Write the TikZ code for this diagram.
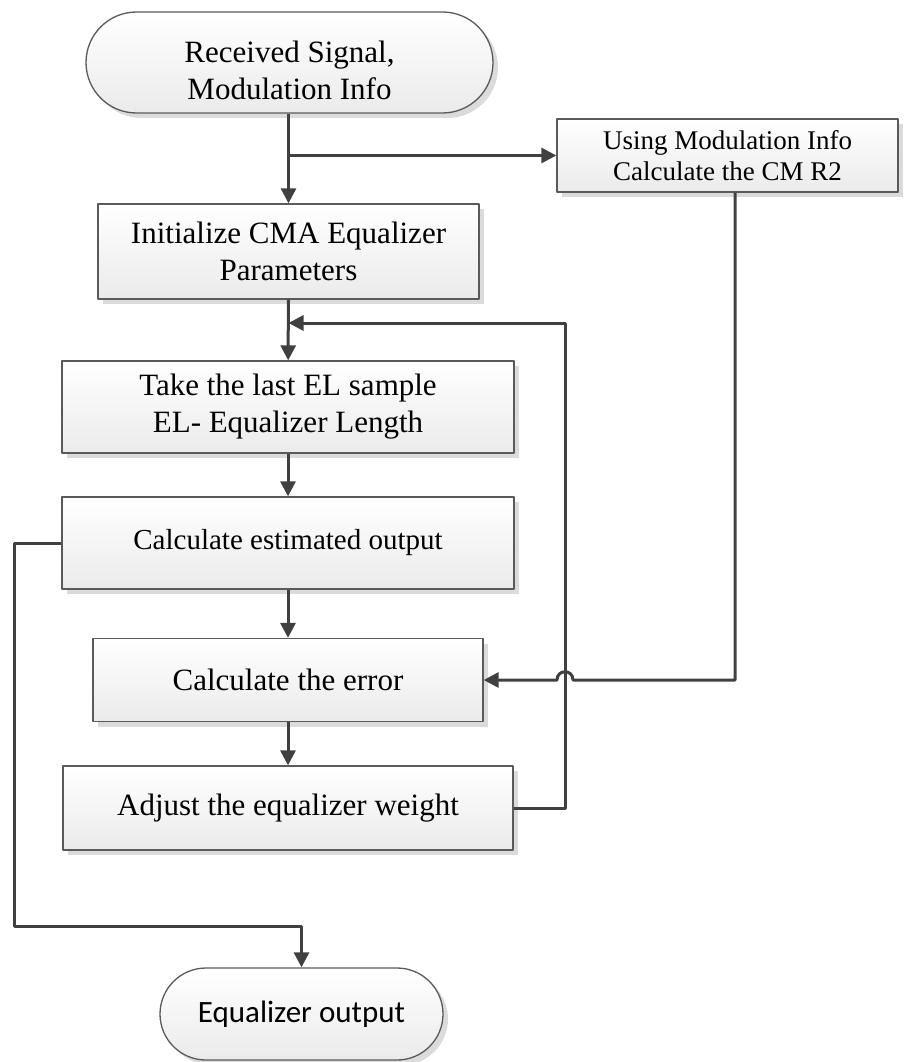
\documentclass[tikz,border=0pt]{standalone}
\usepackage{fontspec}
\setmainfont{Liberation Serif}
\newfontfamily\calibri{Carlito}
\usetikzlibrary{arrows.meta,shapes.misc,shadows}
\definecolor{flowgray}{HTML}{404040}
\definecolor{edgegray}{HTML}{5A5A5A}
\begin{document}
\begin{tikzpicture}[x=1pt, y=-1pt, line join=round, >={Triangle[length=15pt,width=15pt]},
	box/.style={draw=edgegray, line width=1.3pt, top color=white, bottom color=black!8, drop shadow={shadow xshift=5pt, shadow yshift=-5pt, fill=black!14, opacity=1}, align=center, inner sep=0pt, font=\fontsize{31}{37}\selectfont},
	term/.style={box, rounded rectangle},
	flow/.style={->, draw=flowgray, line width=3pt}]
	\useasboundingbox (0,0) rectangle (904,1062);
	\node[term, minimum width=407, minimum height=101] (start) at (289.5,62.5) {\rule{0pt}{38pt}Received Signal,\\Modulation Info};
	\node[box, minimum width=341, minimum height=73, font=\fontsize{27}{31}\selectfont] (cmr) at (727.5,155.5) {Using Modulation Info\\Calculate the CM R2};
	\node[box, minimum width=381, minimum height=95] (init) at (288.5,251.5) {Initialize CMA Equalizer\\Parameters};
	\node[box, minimum width=452, minimum height=92] (take) at (288,407) {Take the last EL sample\\EL- Equalizer Length};
	\node[box, minimum width=452, minimum height=92, font=\fontsize{29}{35}\selectfont] (est) at (288,543) {Calculate estimated output};
	\node[box, minimum width=390, minimum height=83] (err) at (288,680) {Calculate the error};
	\node[box, minimum width=450, minimum height=84] (adj) at (288,808) {Adjust the equalizer weight};
	\node[term, minimum width=283, minimum height=92, font=\calibri\fontsize{31}{37}\selectfont] (out) at (301.5,1014) {Equalizer output};
	\coordinate (merge) at (288.5,323);
	\coordinate (loopTop) at (565,323);
	\coordinate (hopR) at (573,680);
	\coordinate (hopL) at (557,680);
	\coordinate (lc) at (14,926);
	\draw[flow] (start.south -| init.north) -- (init.north);
	\draw[flow] (init.north |- cmr.west) -- (cmr.west);
	\draw[flow] (init) -- (take);
	\draw[flow] (take) -- (est);
	\draw[flow] (est) -- (err);
	\draw[flow] (err) -- (adj);
	\draw[flow] (adj.east) -| (loopTop) -- (merge);
	\draw[flow] ([xshift=7.5pt]cmr.south) |- (hopR) .. controls (573,669) and (557,669) .. (hopL) -- (err.east);
	\draw[flow] (est.west) -| (lc) -| (out);
\end{tikzpicture}
\end{document}
